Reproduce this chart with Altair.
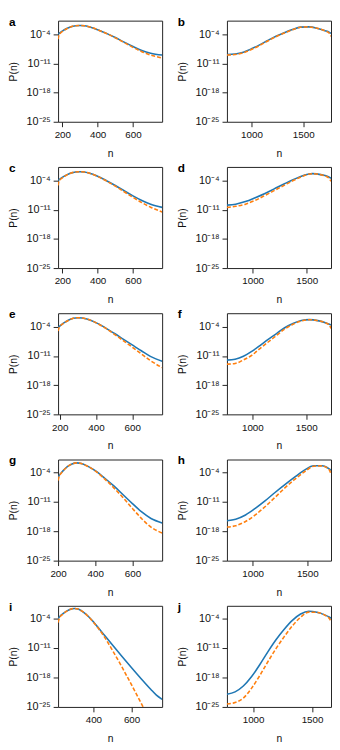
import altair as alt
import pandas as pd

# ---- data (log10 of P(n)) ----
# left column (panels a, c, e, g, i)
n_a = [176, 180, 190, 200, 225, 250, 275, 300, 325, 350, 400, 450, 500, 550, 600, 650, 700, 765]
logp_a_blue = [-4.0, -3.85, -3.55, -3.25, -2.65, -2.2, -1.97, -1.9, -1.98, -2.2, -2.92, -3.8, -4.8, -5.9, -6.95, -7.9, -8.55, -9.0]
logp_a_orange = [-5.2, -4.3, -3.7, -3.35, -2.68, -2.2, -1.97, -1.9, -1.98, -2.2, -2.93, -3.83, -4.87, -6.0, -7.15, -8.2, -9.0, -9.7]

n_c = [176, 180, 190, 200, 225, 250, 275, 300, 325, 350, 400, 450, 500, 550, 600, 650, 700, 765]
logp_c_blue = [-4.0, -3.85, -3.55, -3.25, -2.65, -2.2, -1.97, -1.9, -1.98, -2.22, -3.0, -4.05, -5.2, -6.45, -7.7, -8.8, -9.7, -10.45]
logp_c_orange = [-5.2, -4.3, -3.7, -3.35, -2.68, -2.2, -1.97, -1.9, -1.98, -2.22, -3.02, -4.12, -5.35, -6.7, -8.05, -9.3, -10.4, -11.55]

n_e = [191, 195, 200, 225, 250, 275, 300, 325, 350, 400, 450, 500, 550, 600, 650, 700, 765]
logp_e_blue = [-4.2, -4.0, -3.84, -3.0, -2.37, -1.98, -1.82, -1.9, -2.15, -3.0, -4.2, -5.55, -6.95, -8.35, -9.75, -11.1, -12.25]
logp_e_orange = [-5.0, -4.4, -4.0, -3.05, -2.4, -1.98, -1.82, -1.9, -2.15, -3.02, -4.28, -5.75, -7.3, -8.9, -10.5, -12.1, -13.8]

n_g = [200, 204, 210, 225, 250, 275, 300, 325, 350, 400, 450, 500, 550, 600, 650, 700, 760]
logp_g_blue = [-5.15, -4.85, -4.45, -3.66, -2.6, -1.96, -1.7, -1.85, -2.3, -3.55, -5.3, -7.2, -9.3, -11.4, -13.4, -14.95, -16.0]
logp_g_orange = [-5.9, -5.2, -4.6, -3.72, -2.62, -1.96, -1.7, -1.85, -2.32, -3.62, -5.5, -7.65, -10.0, -12.55, -15.0, -17.0, -18.4]

n_i = [215, 219, 225, 240, 260, 280, 300, 320, 340, 370, 400, 450, 500, 550, 600, 650, 700, 730, 760]
logp_i_blue = [-4.15, -3.85, -3.5, -2.95, -2.3, -1.85, -1.68, -1.82, -2.3, -3.4, -4.85, -7.6, -10.35, -13.05, -15.7, -18.3, -20.8, -22.2, -23.2]
logp_i_orange = [-5.0, -4.35, -3.75, -3.05, -2.33, -1.86, -1.68, -1.82, -2.32, -3.45, -4.95, -7.9, -11.6, -15.6, -19.8, -24.1, -28.5, -31.2, -34.0]

# right column (panels b, d, f, h, j)
n_b = [763, 842, 921, 1000, 1079, 1158, 1237, 1317, 1396, 1474, 1554, 1633, 1712, 1750, 1769]
logp_b_blue = [-8.9, -8.75, -8.3, -7.5, -6.55, -5.5, -4.5, -3.65, -2.9, -2.3, -2.25, -2.55, -3.15, -3.5, -3.8]
logp_b_orange = [-9.0, -8.88, -8.45, -7.65, -6.7, -5.62, -4.6, -3.72, -2.95, -2.33, -2.25, -2.56, -3.2, -3.7, -4.5]

n_d = [762, 843, 933, 1024, 1114, 1204, 1295, 1385, 1475, 1550, 1641, 1700, 1725]
logp_d_blue = [-9.9, -9.68, -9.05, -8.12, -7.11, -5.94, -4.78, -3.69, -2.75, -2.35, -2.65, -3.1, -3.45]
logp_d_orange = [-10.45, -10.2, -9.68, -8.75, -7.58, -6.35, -5.1, -3.9, -2.85, -2.37, -2.67, -3.3, -4.2]

n_f = [764, 840, 917, 994, 1070, 1147, 1224, 1300, 1377, 1454, 1530, 1607, 1684, 1715, 1730]
logp_f_blue = [-12.0, -11.78, -11.08, -9.91, -8.51, -7.03, -5.63, -4.23, -3.22, -2.52, -2.29, -2.52, -3.07, -3.4, -3.6]
logp_f_orange = [-12.95, -12.8, -11.95, -10.84, -9.25, -7.65, -6.1, -4.54, -3.4, -2.6, -2.3, -2.53, -3.1, -3.6, -4.4]

n_h = [765, 845, 935, 1024, 1113, 1202, 1292, 1381, 1470, 1560, 1634, 1700, 1717]
logp_h_blue = [-15.5, -15.12, -14.11, -12.55, -10.77, -8.82, -6.95, -5.17, -3.5, -2.4, -2.4, -3.15, -3.5]
logp_h_orange = [-17.0, -16.68, -15.67, -14.11, -12.16, -9.99, -7.73, -5.71, -3.9, -2.5, -2.42, -3.3, -4.4]

n_j = [778, 847, 917, 986, 1056, 1125, 1194, 1264, 1333, 1403, 1472, 1542, 1611, 1645, 1661]
logp_j_blue = [-22.0, -21.44, -20.05, -17.86, -15.0, -11.95, -9.1, -6.6, -4.5, -3.0, -2.35, -2.6, -3.25, -3.7, -4.0]
logp_j_orange = [-24.3, -23.95, -22.9, -20.6, -17.6, -14.3, -11.2, -8.35, -5.8, -3.75, -2.55, -2.62, -3.3, -4.0, -4.7]

# axis ranges and tick labels
x_domains = {"a": [176, 765], "c": [176, 765], "e": [191, 765], "g": [200, 760], "i": [215, 760],
             "b": [763, 1769], "d": [762, 1725], "f": [764, 1730], "h": [765, 1717], "j": [778, 1661]}
x_ticks_left = [200, 400, 600]
x_ticks_right = [1000, 1500]
y_ticks = [1e-25, 1e-18, 1e-11, 1e-4]
y_top_exp = {"a": -0.75, "b": -0.75, "c": -0.75, "d": -0.75, "e": -0.75, "f": -0.75,
             "g": -0.9, "h": -0.9, "i": -1.05, "j": -1.05}

BLUE = "#1f77b4"
ORANGE = "#ff7f0e"
FONT = "Liberation Sans"
W, H = 106, 103

Y_LABEL = ("round(log(datum.value)/LN10) == -4 ? '10⁻⁴' : "
           "round(log(datum.value)/LN10) == -11 ? '10⁻¹¹' : "
           "round(log(datum.value)/LN10) == -18 ? '10⁻¹⁸' : '10⁻²⁵'")


def panel(letter, n, lb, lo):
    dom = x_domains[letter]
    ticks = [t for t in (x_ticks_left + x_ticks_right) if dom[0] <= t <= dom[1]]
    df_b = pd.DataFrame({"n": n, "P": [10.0 ** v for v in lb]})
    df_o = pd.DataFrame({"n": n, "P": [10.0 ** v for v in lo]})
    x = alt.X("n:Q", scale=alt.Scale(domain=dom, nice=False, zero=False),
              axis=alt.Axis(values=ticks, format="d", title="n", titlePadding=9))
    y = alt.Y("P:Q", scale=alt.Scale(type="log", domain=[1e-25, 10.0 ** y_top_exp[letter]], nice=False),
              axis=alt.Axis(values=y_ticks, labelExpr=Y_LABEL, labelFontSize=11,
                            title="P(n)", titleX=-40, titleY=H / 2))
    blue = alt.Chart(df_b).mark_line(color=BLUE, strokeWidth=1.6, clip=True,
                                     interpolate="monotone").encode(x=x, y=y)
    orange = alt.Chart(df_o).mark_line(color=ORANGE, strokeWidth=1.6, strokeDash=[4, 2], clip=True,
                                       interpolate="monotone").encode(x=x, y=y)
    lab = alt.Chart(pd.DataFrame({"t": [letter]})).mark_text(
        align="left", baseline="alphabetic", fontSize=12, fontWeight="bold", font=FONT, color="black"
    ).encode(x=alt.value(-50), y=alt.value(5), text="t:N")
    return alt.layer(blue, orange, lab).properties(width=W, height=H)


rows = [
    alt.hconcat(panel("a", n_a, logp_a_blue, logp_a_orange), panel("b", n_b, logp_b_blue, logp_b_orange), spacing=14),
    alt.hconcat(panel("c", n_c, logp_c_blue, logp_c_orange), panel("d", n_d, logp_d_blue, logp_d_orange), spacing=14),
    alt.hconcat(panel("e", n_e, logp_e_blue, logp_e_orange), panel("f", n_f, logp_f_blue, logp_f_orange), spacing=14),
    alt.hconcat(panel("g", n_g, logp_g_blue, logp_g_orange), panel("h", n_h, logp_h_blue, logp_h_orange), spacing=14),
    alt.hconcat(panel("i", n_i, logp_i_blue, logp_i_orange), panel("j", n_j, logp_j_blue, logp_j_orange), spacing=14),
]

chart = alt.vconcat(*rows, spacing=2).properties(
    padding={"left": 0, "top": 0, "right": 0, "bottom": 0}
).configure(background="white").configure_view(
    stroke="#222", strokeWidth=1
).configure_axis(
    domain=False, grid=False, ticks=True, tickColor="#222", tickSize=5, tickWidth=1,
    labelFont=FONT, labelFontSize=10, labelColor="#111", labelPadding=3,
    labelFlush=False, labelOverlap=False,
    titleFont=FONT, titleFontSize=10.5, titleFontWeight="normal", titleColor="#111"
)

chart.save("out.html", embed_options={"renderer": "svg", "actions": False})
